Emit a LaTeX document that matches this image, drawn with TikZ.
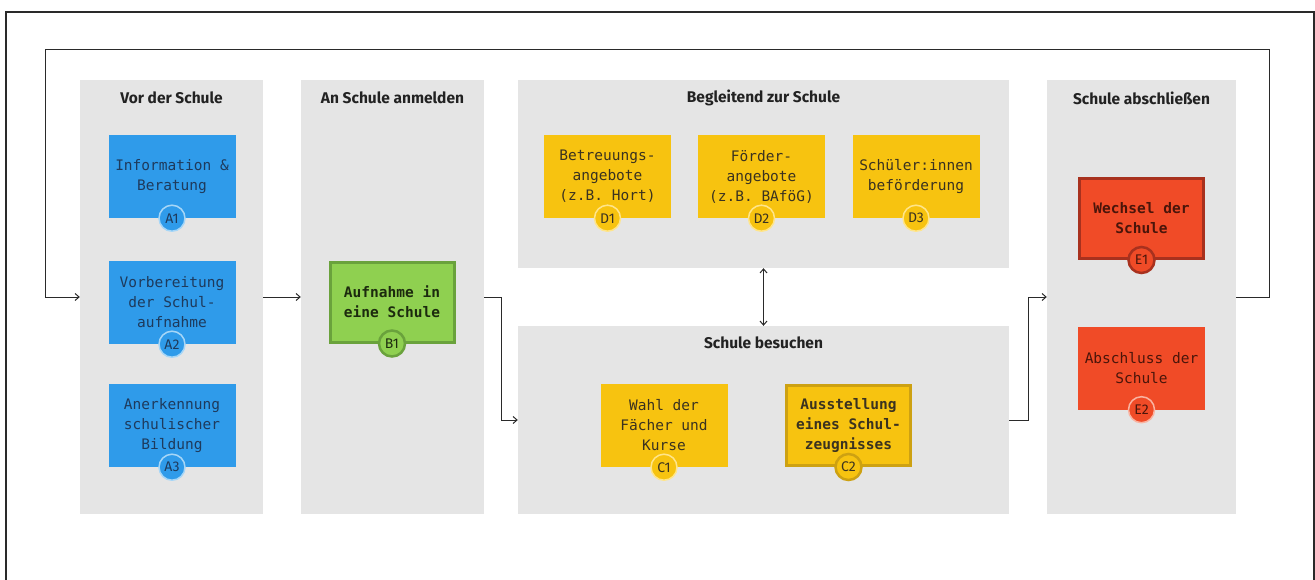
\documentclass[tikz,border=0pt]{standalone}
\usepackage{fontspec}
\setmainfont{Fira Sans}
\setsansfont{Fira Sans}
\newfontfamily\boxfont{DejaVu Sans Mono}
\usetikzlibrary{arrows.meta}

\definecolor{panelgray}{HTML}{E5E5E5}
\definecolor{linegray}{HTML}{2A2A2A}
\definecolor{titletext}{HTML}{222222}
\definecolor{blueA}{HTML}{2F9BEA}
\definecolor{blueRing}{HTML}{A6D6F7}
\definecolor{blueText}{HTML}{1E3A5C}
\definecolor{greenB}{HTML}{8FD050}
\definecolor{greenEdge}{HTML}{6AA23C}
\definecolor{greenText}{HTML}{1C2A0E}
\definecolor{yellowC}{HTML}{F7C310}
\definecolor{yellowRing}{HTML}{FFE58A}
\definecolor{yellowEdge}{HTML}{CDA112}
\definecolor{yellowText}{HTML}{3A3220}
\definecolor{redE}{HTML}{F04B27}
\definecolor{redRing}{HTML}{F9B3A1}
\definecolor{redEdge}{HTML}{A8311E}
\definecolor{redText}{HTML}{4A150A}

\tikzset{
  panel/.style={fill=panelgray, inner sep=0pt},
  paneltitle/.style={font=\bfseries\fontsize{15.5}{18}\selectfont, text=titletext},
  stepbox/.style={minimum width=127pt, minimum height=83pt, inner sep=0pt, align=center,
    font=\boxfont\fontsize{14.5}{20}\selectfont},
  keybox/.style={stepbox, minimum width=124pt, minimum height=80pt, line width=3pt,
    font=\boxfont\bfseries\fontsize{14.5}{20}\selectfont},
  badge/.style={circle, minimum size=26pt, inner sep=0pt, line width=1.5pt,
    font=\sffamily\fontsize{14}{14}\selectfont},
  flow/.style={draw=linegray, line width=1pt, -{Straight Barb[length=4pt,width=7pt]}},
}

\begin{document}
\begin{tikzpicture}[x=1pt,y=-1pt]
\useasboundingbox (0,0) rectangle (1315,579);

% frame
\draw[linegray, line width=2pt] (6,580) -- (6,12) -- (1314,12) -- (1314,580);

% panels
\node[panel, minimum width=183pt, minimum height=434pt] (pa) at (171.5,297) {};
\node[panel, minimum width=183pt, minimum height=434pt] (pb) at (392.5,297) {};
\node[panel, minimum width=491pt, minimum height=188pt] (pd) at (763.5,174) {};
\node[panel, minimum width=491pt, minimum height=188pt] (pc) at (763.5,420) {};
\node[panel, minimum width=189pt, minimum height=434pt] (pe) at (1141.5,297) {};

\node[paneltitle] (ta) at (171.5,98) {Vor der Schule};
\node[paneltitle] (tb) at (392.5,98) {An Schule anmelden};
\node[paneltitle] (td) at (763.5,98) {Begleitend zur Schule};
\node[paneltitle] (tc) at (763.5,343) {Schule besuchen};
\node[paneltitle] (te) at (1141.5,98) {Schule abschließen};

% A
\node[stepbox, fill=blueA, text=blueText] (a1) at (172,176.5) {Information \&\\Beratung};
\node[stepbox, fill=blueA, text=blueText] (a2) at (172,302.5) {Vorbereitung\\der Schul-\\aufnahme};
\node[stepbox, fill=blueA, text=blueText] (a3) at (172,425.5) {Anerkennung\\schulischer\\Bildung};
\foreach \n in {1,2,3}
  \node[badge, fill=blueA, draw=blueRing, text=blueText] (ba\n) at (a\n.south) {A\n};

% B
\node[keybox, fill=greenB, draw=greenEdge, text=greenText] (b1) at (392,302) {Aufnahme in\\eine Schule};
\node[badge, fill=greenB, draw=greenEdge, line width=2.5pt, text=greenText] (bb1) at (b1.south) {B1};

% D
\foreach \n/\x/\txt in {1/607.5/{Betreuungs-\\angebote\\(z.B. Hort)},
                        2/761.5/{Förder-\\angebote\\(z.B. BAföG)},
                        3/916/{Schüler:innen\\beförderung}}
{
  \node[stepbox, fill=yellowC, text=yellowText] (d\n) at (\x,176.5) {\txt};
  \node[badge, fill=yellowC, draw=yellowRing, text=yellowText] (bd\n) at (d\n.south) {D\n};
}

% C
\node[stepbox, fill=yellowC, text=yellowText] (c1) at (664,425.5) {Wahl der\\Fächer und\\Kurse};
\node[badge, fill=yellowC, draw=yellowRing, text=yellowText] (bc1) at (c1.south) {C1};
\node[keybox, fill=yellowC, draw=yellowEdge, text=yellowText] (c2) at (848.5,425.5) {Ausstellung\\eines Schul-\\zeugnisses};
\node[badge, fill=yellowC, draw=yellowEdge, line width=2.5pt, text=yellowText] (bc2) at (c2.south) {C2};

% E
\node[keybox, fill=redE, draw=redEdge, text=redText] (e1) at (1141.5,218.5) {Wechsel der\\Schule};
\node[badge, fill=redE, draw=redEdge, line width=2.5pt, text=redText] (be1) at (e1.south) {E1};
\node[stepbox, fill=redE, text=redText] (e2) at (1141.5,368) {Abschluss der\\Schule};
\node[badge, fill=redE, draw=redRing, text=redText] (be2) at (e2.south) {E2};

% connectors
\coordinate (loopr) at (1269,49);
\coordinate (loopl) at (45.5,49);
\draw[flow] (pe.east) -| (loopr) -- (loopl) |- (pa.west);
\draw[flow] (pa.east) -- (pb.west);
\draw[flow] (pb.east) -- ++(17,0) |- (pc.west);
\draw[flow] (pc.east) -- ++(19,0) |- (pe.west);
\draw[flow, {Straight Barb[length=4pt,width=7pt]}-{Straight Barb[length=4pt,width=7pt]}] (pd.south) -- (pc.north);

\end{tikzpicture}
\end{document}
